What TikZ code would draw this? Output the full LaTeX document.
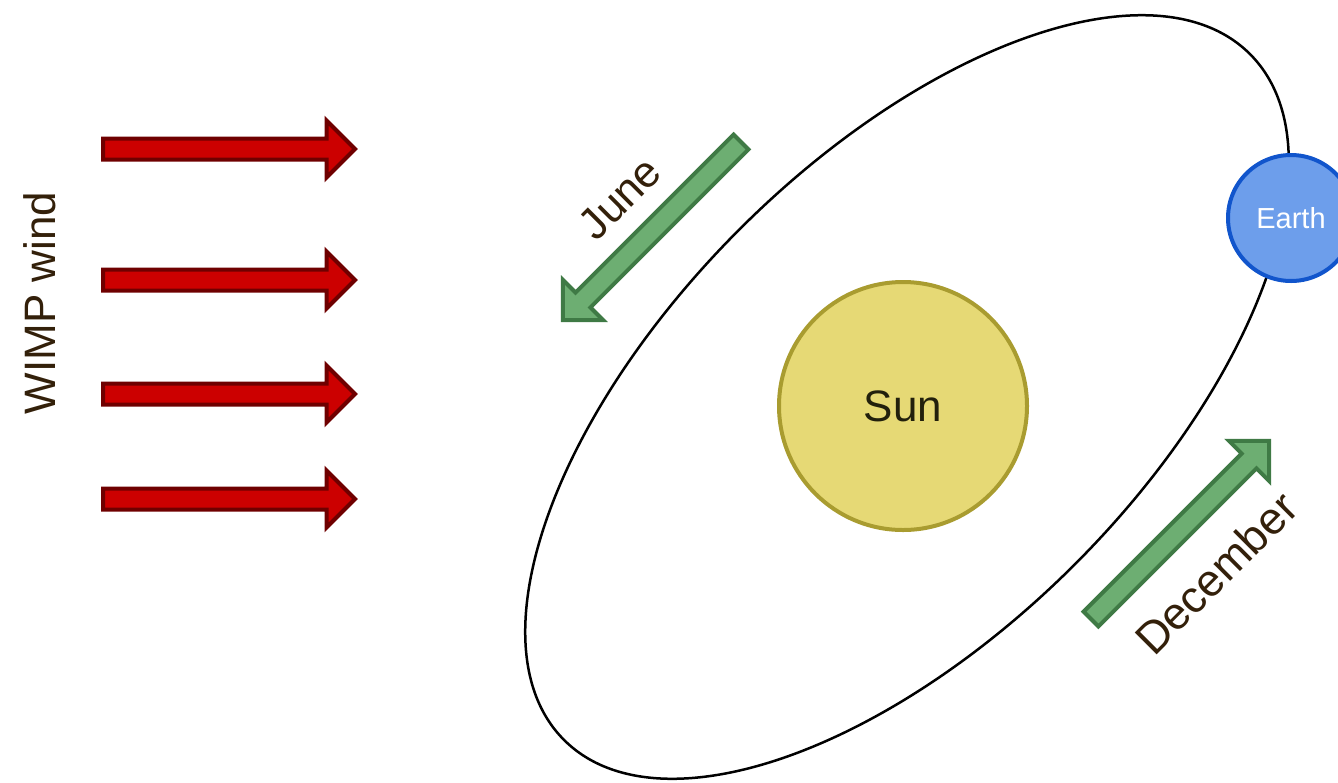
\documentclass[tikz,border=0pt]{standalone}
\usepackage{fontspec}
\setmainfont{Liberation Sans}
\definecolor{windred}{HTML}{CC0000}
\definecolor{winddark}{HTML}{6F0000}
\definecolor{arrgreen}{HTML}{6DAE72}
\definecolor{arrgreendark}{HTML}{3F7A45}
\definecolor{sunfill}{HTML}{E6D975}
\definecolor{sunline}{HTML}{A99C30}
\definecolor{earthfill}{HTML}{6D9EEB}
\definecolor{earthline}{HTML}{1155CC}
\definecolor{labelbrown}{HTML}{33200A}
\definecolor{suntext}{HTML}{22200C}
\newcommand{\blkarrow}[3]{%
  \draw[#1, shift={#2}, rotate=#3] (0,-10.5) -- (223.5,-10.5) -- (223.5,-28.5) -- (252,0) -- (223.5,28.5) -- (223.5,10.5) -- (0,10.5) -- cycle;}
\tikzset{
  windarrow/.style={fill=windred, draw=winddark, line width=4pt, line join=miter},
  seasonarrow/.style={fill=arrgreen, draw=arrgreendark, line width=4pt, line join=miter},
  lbl/.style={text=labelbrown, font=\fontsize{44}{52}\selectfont, inner sep=0pt},
  orbit/.style={draw=black, line width=2.5pt},
  sunstyle/.style={circle, draw=sunline, fill=sunfill, line width=4pt, minimum size=248pt, inner sep=0pt, text=suntext, font=\fontsize{44}{52}\selectfont},
  earthstyle/.style={circle, draw=earthline, fill=earthfill, line width=4pt, minimum size=126pt, inner sep=0pt, text=white, font=\fontsize{29}{34}\selectfont}
}
\begin{document}
\begin{tikzpicture}[x=1pt, y=-1pt]
\useasboundingbox (0,0) rectangle (1338,782);
% wind arrows
\blkarrow{windarrow}{(103,149)}{0}
\blkarrow{windarrow}{(103,280)}{0}
\blkarrow{windarrow}{(103,394)}{0}
\blkarrow{windarrow}{(103,499)}{0}
\node[lbl, rotate=90] (wimp) at (40,303) {WIMP wind};
% orbit
\coordinate (oc) at (907,397);
\draw[orbit, rotate around={45:(oc)}] (oc) ellipse [x radius=485pt, y radius=237pt];
% sun and earth
\node[sunstyle] (sun) at (903,406) {Sun};
\node[earthstyle] (earth) at (1291,218) {Earth};
% season arrows
\blkarrow{seasonarrow}{(741,142)}{225}
\blkarrow{seasonarrow}{(1091,619)}{45}
\node[lbl, rotate=45] (june) at (620,198) {June};
\node[lbl, rotate=45, font=\fontsize{45}{52}\selectfont] (dec) at (1216,573) {December};
\end{tikzpicture}
\end{document}
